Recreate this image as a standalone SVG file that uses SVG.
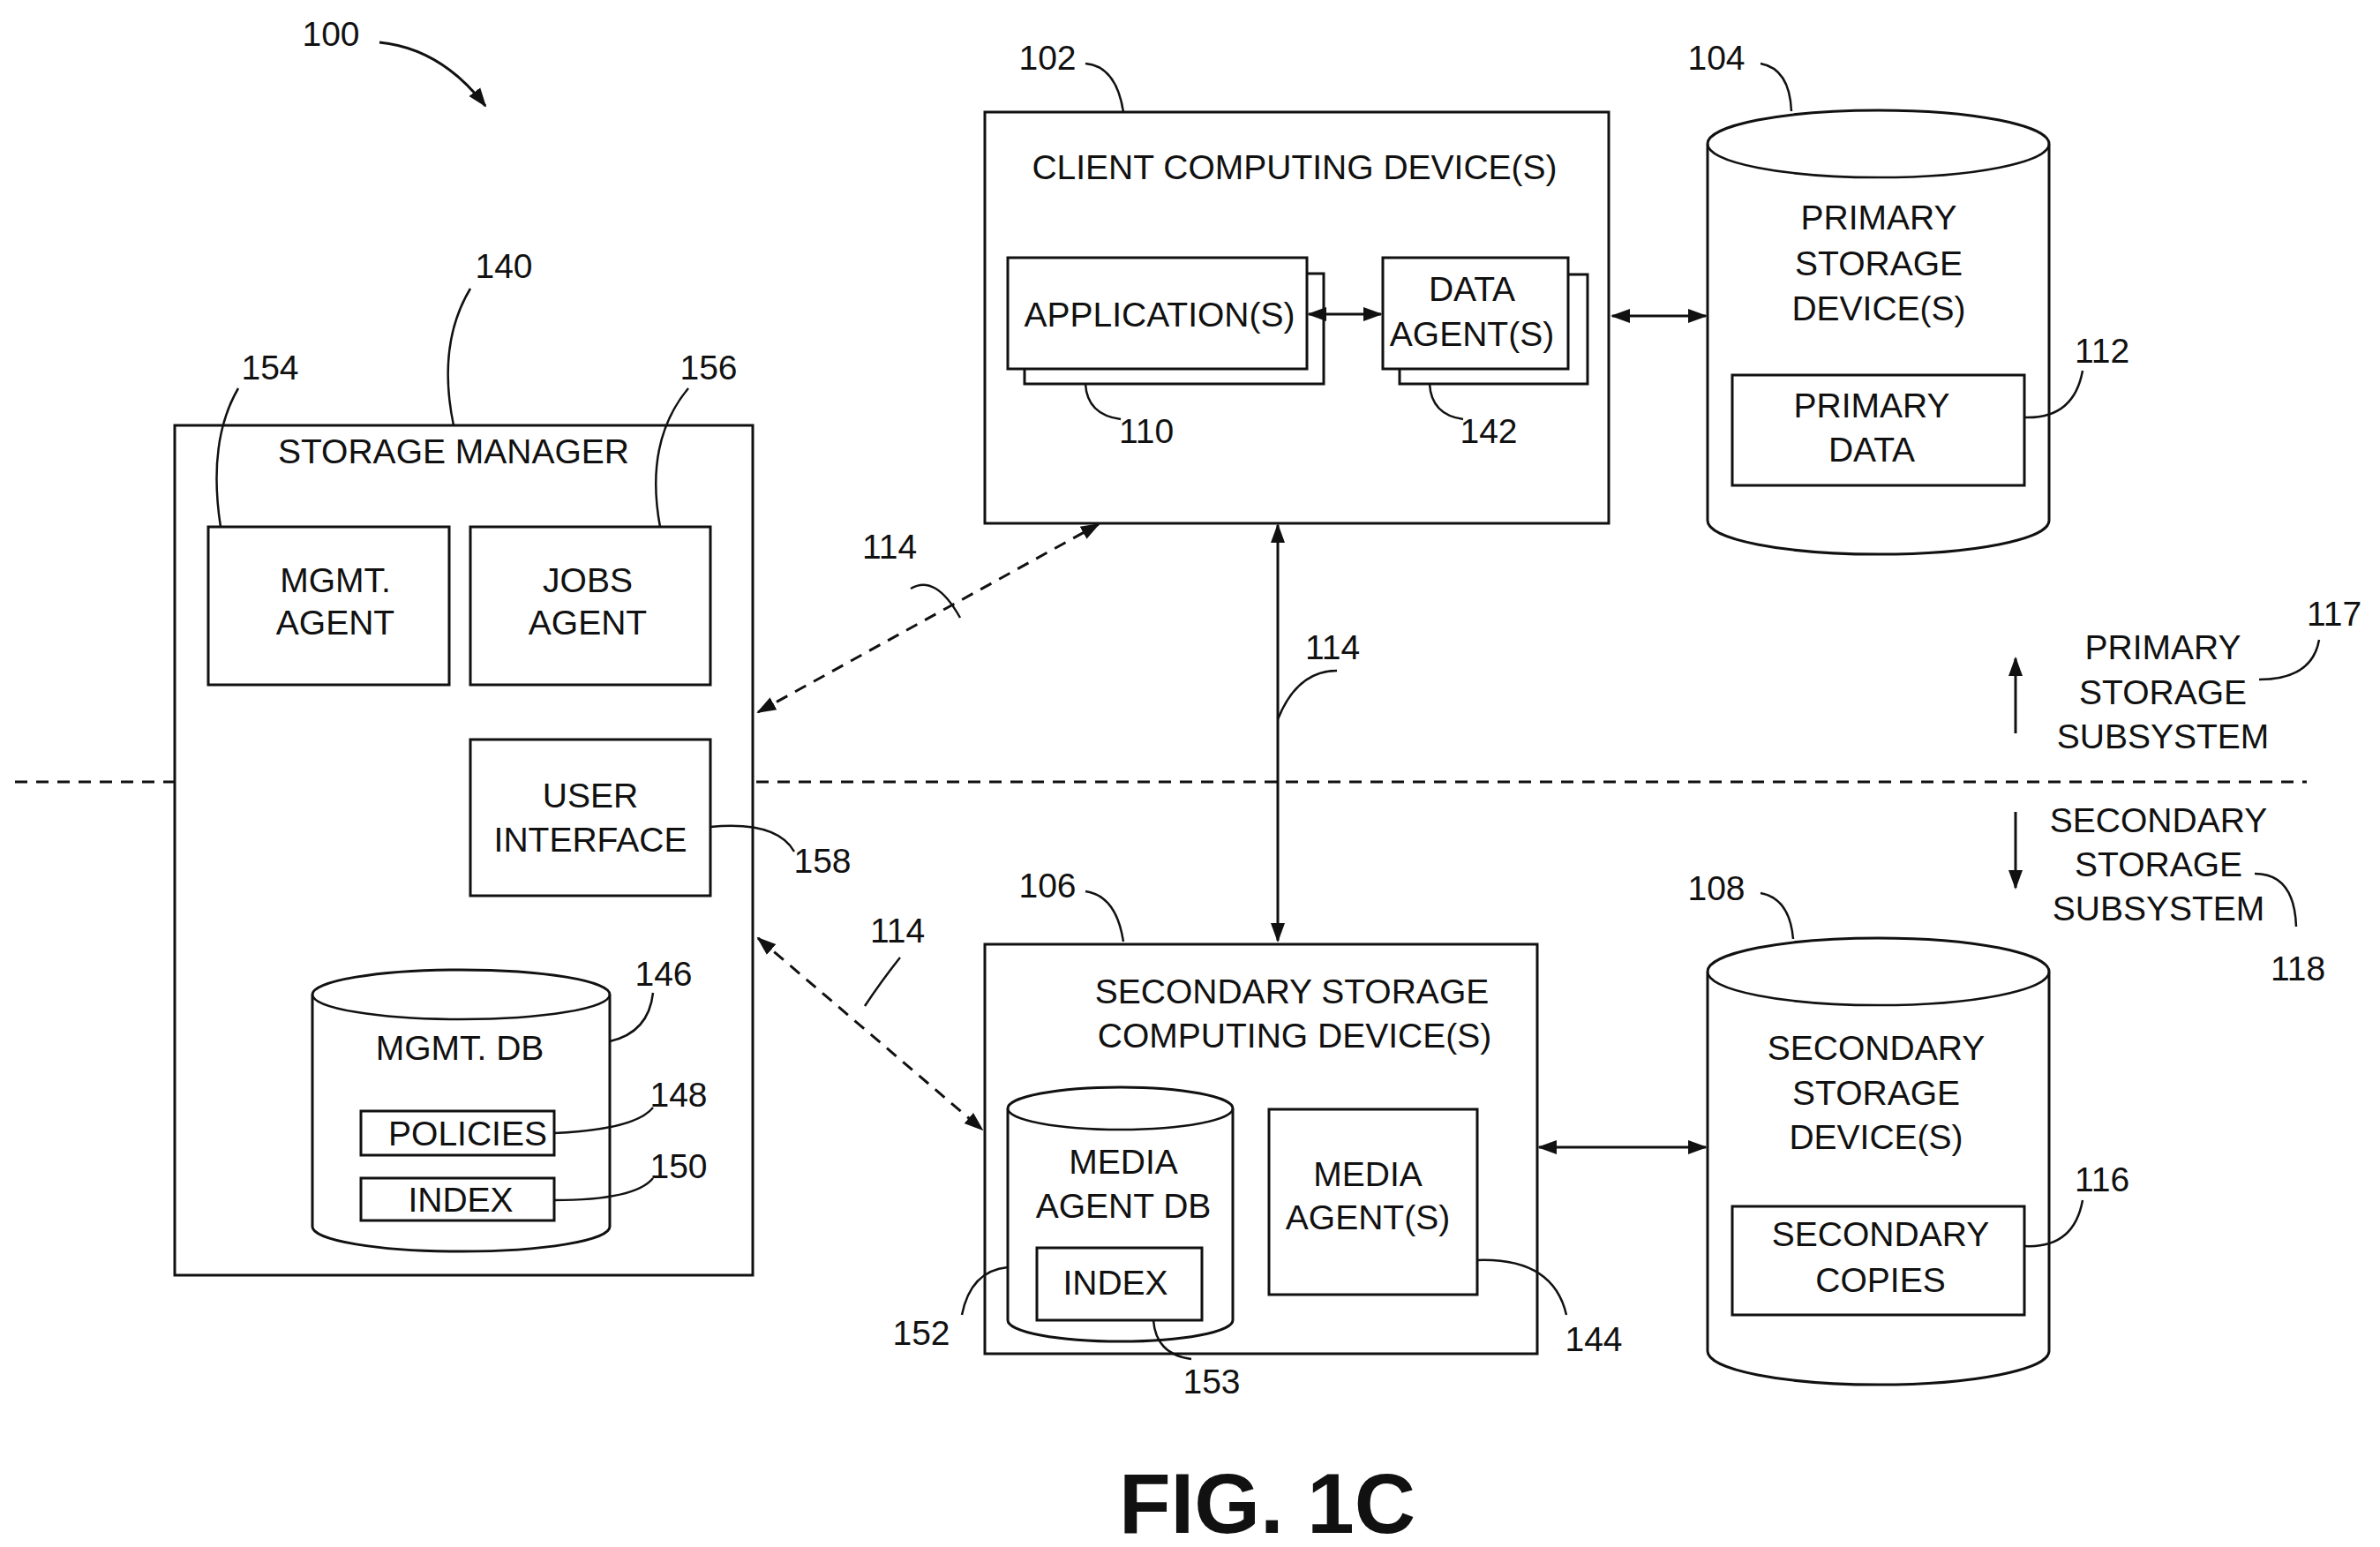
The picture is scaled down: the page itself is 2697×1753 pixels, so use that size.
<svg xmlns="http://www.w3.org/2000/svg" width="2697" height="1753" viewBox="0 0 2697 1753">
<style>
text{font-family:"Liberation Sans",Arial,sans-serif;font-size:39px;fill:#111;text-anchor:middle}
.b{fill:#fff;stroke:#111;stroke-width:3}
.l{fill:none;stroke:#111;stroke-width:2.5}
.d{fill:none;stroke:#111;stroke-width:3;stroke-dasharray:14 10}
.s{fill:none;stroke:#111;stroke-width:3}
</style>
<defs>
<marker id="m" viewBox="0 0 22 22" refX="20" refY="11" markerWidth="22" markerHeight="22" orient="auto-start-reverse" markerUnits="userSpaceOnUse"><path d="M0,3 L22,11 L0,19 z" fill="#111"/></marker>
</defs>
<rect width="2697" height="1753" fill="#fff"/>
<line class="d" x1="17" y1="886" x2="2614" y2="886"/>
<g id="n102">
<rect class="b" x="1116" y="127" width="707" height="466"/>
<text x="1467" y="203">CLIENT COMPUTING DEVICE(S)</text>
<path class="l" d="M1230,72 Q1265,75 1273,127"/><text x="1187" y="79">102</text>
</g>
<g id="n110">
<rect class="b" x="1161" y="310" width="339" height="125"/>
<rect class="b" x="1142" y="292" width="339" height="126"/>
<text x="1314" y="370">APPLICATION(S)</text>
<path class="l" d="M1230,435 Q1232,470 1270,475"/><text x="1299" y="502">110</text>
</g>
<g id="n142">
<rect class="b" x="1586" y="311" width="213" height="124"/>
<rect class="b" x="1567" y="292" width="210" height="126"/>
<text x="1668" y="341">DATA</text><text x="1668" y="392">AGENT(S)</text>
<path class="l" d="M1620,435 Q1622,470 1658,475"/><text x="1687" y="502">142</text>
</g>
<g id="n104">
<path class="b" d="M1935,163 A193,38 0 0 1 2322,163 V590 A193,38 0 0 1 1935,590 Z"/>
<path class="l" d="M1935,163 A193,38 0 0 0 2322,163"/>
<text x="2129" y="260">PRIMARY</text><text x="2129" y="312">STORAGE</text><text x="2129" y="363">DEVICE(S)</text>
<path class="l" d="M1995,72 Q2028,78 2030,126"/><text x="1945" y="79">104</text>
</g>
<g id="n112">
<rect class="b" x="1963" y="425" width="331" height="125"/>
<text x="2121" y="473">PRIMARY</text><text x="2121" y="523">DATA</text>
<path class="l" d="M2294,473 Q2350,475 2360,420"/><text x="2382" y="411">112</text>
</g>
<g id="n140">
<rect class="b" x="198" y="482" width="655" height="963"/>
<text x="514" y="525">STORAGE MANAGER</text>
<path class="l" d="M533,327 Q495,390 514,482"/><text x="571" y="315">140</text>
</g>
<g id="n154">
<rect class="b" x="236" y="597" width="273" height="179"/>
<text x="380" y="671">MGMT.</text><text x="380" y="719">AGENT</text>
<path class="l" d="M270,440 Q235,500 250,597"/><text x="306" y="430">154</text>
</g>
<g id="n156">
<rect class="b" x="533" y="597" width="272" height="179"/>
<text x="666" y="671">JOBS</text><text x="666" y="719">AGENT</text>
<path class="l" d="M780,440 Q730,500 748,597"/><text x="803" y="430">156</text>
</g>
<g id="n158">
<rect class="b" x="533" y="838" width="272" height="177"/>
<text x="669" y="915">USER</text><text x="669" y="965">INTERFACE</text>
<path class="l" d="M805,937 Q880,930 900,965"/><text x="932" y="989">158</text>
</g>
<g id="n146">
<path class="b" d="M354,1127 A168,28 0 0 1 691,1127 V1390 A168,28 0 0 1 354,1390 Z"/>
<path class="l" d="M354,1127 A168,28 0 0 0 691,1127"/>
<text x="521" y="1201">MGMT. DB</text>
<path class="l" d="M691,1180 Q735,1170 740,1125"/><text x="752" y="1117">146</text>
</g>
<g id="n148">
<rect class="b" x="409" y="1259" width="219" height="50"/>
<text x="530" y="1298">POLICIES</text>
<path class="l" d="M628,1284 Q720,1280 740,1255"/><text x="769" y="1254">148</text>
</g>
<g id="n150">
<rect class="b" x="409" y="1335" width="219" height="48"/>
<text x="522" y="1373">INDEX</text>
<path class="l" d="M628,1360 Q720,1360 740,1335"/><text x="769" y="1335">150</text>
</g>
<g id="n106">
<rect class="b" x="1116" y="1070" width="626" height="464"/>
<text x="1464" y="1137">SECONDARY STORAGE</text><text x="1467" y="1187">COMPUTING DEVICE(S)</text>
<path class="l" d="M1230,1010 Q1265,1015 1273,1067"/><text x="1187" y="1017">106</text>
</g>
<g id="n152">
<path class="b" d="M1142,1256 A127,24 0 0 1 1397,1256 V1496 A127,24 0 0 1 1142,1496 Z"/>
<path class="l" d="M1142,1256 A127,24 0 0 0 1397,1256"/>
<text x="1273" y="1330">MEDIA</text><text x="1273" y="1380">AGENT DB</text>
<path class="l" d="M1142,1436 Q1100,1440 1090,1490"/><text x="1044" y="1524">152</text>
</g>
<g id="n153">
<rect class="b" x="1175" y="1414" width="187" height="82"/>
<text x="1264" y="1467">INDEX</text>
<path class="l" d="M1307,1496 Q1310,1535 1350,1540"/><text x="1373" y="1579">153</text>
</g>
<g id="n144">
<rect class="b" x="1438" y="1257" width="236" height="210"/>
<text x="1550" y="1344">MEDIA</text><text x="1550" y="1393">AGENT(S)</text>
<path class="l" d="M1674,1428 Q1760,1425 1775,1490"/><text x="1806" y="1531">144</text>
</g>
<g id="n108">
<path class="b" d="M1935,1101 A193,38 0 0 1 2322,1101 V1531 A193,38 0 0 1 1935,1531 Z"/>
<path class="l" d="M1935,1101 A193,38 0 0 0 2322,1101"/>
<text x="2126" y="1201">SECONDARY</text><text x="2126" y="1252">STORAGE</text><text x="2126" y="1302">DEVICE(S)</text>
<path class="l" d="M1995,1012 Q2028,1018 2032,1064"/><text x="1945" y="1020">108</text>
</g>
<g id="n116">
<rect class="b" x="1963" y="1367" width="331" height="123"/>
<text x="2131" y="1412">SECONDARY</text><text x="2131" y="1464">COPIES</text>
<path class="l" d="M2294,1412 Q2350,1415 2360,1360"/><text x="2382" y="1350">116</text>
</g>
<g id="n117">
<text x="2451" y="747">PRIMARY</text><text x="2451" y="798">STORAGE</text><text x="2451" y="848">SUBSYSTEM</text>
<path class="l" d="M2560,770 Q2620,770 2628,725"/><text x="2645" y="709">117</text>
</g>
<g id="n118">
<text x="2446" y="943">SECONDARY</text><text x="2446" y="993">STORAGE</text><text x="2446" y="1043">SUBSYSTEM</text>
<path class="l" d="M2555,990 Q2600,990 2602,1050"/><text x="2604" y="1111">118</text>
</g>
<g id="connectors">
<path class="s" d="M430,48 Q500,55 550,120" marker-end="url(#m)"/>
<line class="s" x1="1483" y1="356" x2="1565" y2="356" marker-start="url(#m)" marker-end="url(#m)"/>
<line class="s" x1="1827" y1="358" x2="1933" y2="358" marker-start="url(#m)" marker-end="url(#m)"/>
<line class="d" x1="859" y1="807" x2="1245" y2="594" marker-start="url(#m)" marker-end="url(#m)"/>
<line class="d" x1="859" y1="1063" x2="1113" y2="1280" marker-start="url(#m)" marker-end="url(#m)"/>
<line class="s" x1="1448" y1="595" x2="1448" y2="1066" marker-start="url(#m)" marker-end="url(#m)"/>
<line class="s" x1="1744" y1="1300" x2="1933" y2="1300" marker-start="url(#m)" marker-end="url(#m)"/>
<line class="s" x1="2284" y1="831" x2="2284" y2="746" marker-end="url(#m)"/>
<line class="s" x1="2284" y1="920" x2="2284" y2="1006" marker-end="url(#m)"/>
<path class="l" d="M1032,667 Q1060,650 1088,700"/>
<path class="l" d="M1448,815 Q1470,760 1515,760"/>
<path class="l" d="M980,1140 Q1000,1110 1020,1085"/>
</g>
<text x="375" y="52">100</text>
<text x="1008" y="633">114</text>
<text x="1017" y="1068">114</text>
<text x="1510" y="747">114</text>
<text x="1436" y="1737" style="font-size:96px;font-weight:bold">FIG. 1C</text>
</svg>
